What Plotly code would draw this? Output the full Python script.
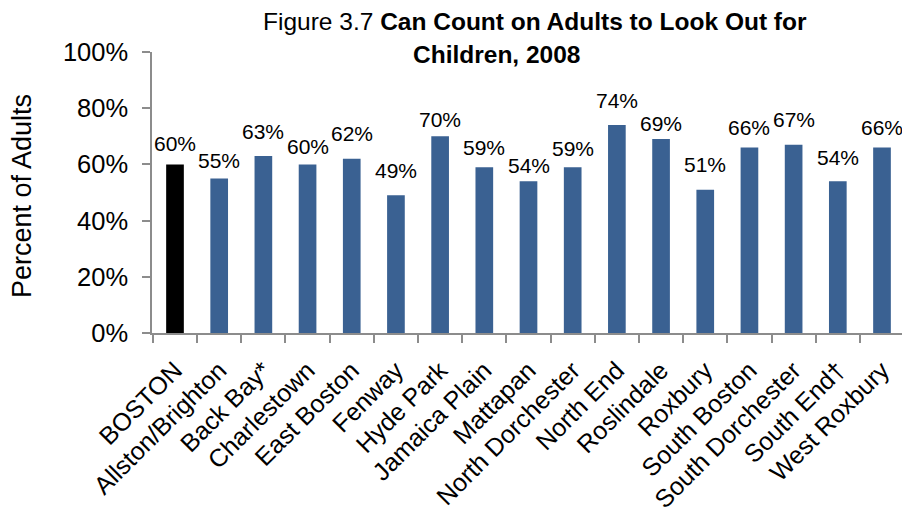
import plotly.graph_objects as go

categories = ["BOSTON", "Allston/Brighton", "Back Bay*", "Charlestown", "East Boston",
              "Fenway", "Hyde Park", "Jamaica Plain", "Mattapan", "North Dorchester",
              "North End", "Roslindale", "Roxbury", "South Boston", "South Dorchester",
              "South End†", "West Roxbury"]
values = [60, 55, 63, 60, 62, 49, 70, 59, 54, 59, 74, 69, 51, 66, 67, 54, 66]
y_ticks = [0, 20, 40, 60, 80, 100]
y_tick_labels = ["0%", "20%", "40%", "60%", "80%", "100%"]

# style: pixel gap between each value label's baseline and its bar top (as placed in the original)
label_gap_px = [12, 9, 16, 9, 17, 16, 8, 11, 7, 10, 16, 7, 17, 11, 17, 15, 11]

colors = ["#000000"] + ["#3A6192"] * (len(categories) - 1)
FONT = "Liberation Sans, Arial, sans-serif"
LABEL_SIZE = 21

# page body has an 8px margin; plot area target in screenshot: x 152..905, y 52..333
PL, PT, PR, PB = 152, 52, 905, 333
OFF = 8
PW = PR - PL
PH = PB - PT

fig = go.Figure(go.Bar(
    x=categories,
    y=values,
    marker=dict(color=colors, line=dict(width=0)),
    hoverinfo="x+y",
))

annotations = [
    dict(text="Figure 3.7 <b>Can Count on Adults to Look Out for</b>",
         xref="paper", yref="paper", x=(535 - PL) / PW, y=1 + (PT - 22) / PH,
         xanchor="center", yanchor="middle", showarrow=False,
         font=dict(family=FONT, size=24.5, color="#000000")),
    dict(text="<b>Children, 2008</b>",
         xref="paper", yref="paper", x=(496 - PL) / PW, y=1 + (PT - 55) / PH,
         xanchor="center", yanchor="middle", showarrow=False,
         font=dict(family=FONT, size=24.5, color="#000000")),
    dict(text="Percent of Adults", textangle=-90,
         xref="paper", yref="paper", x=(22 - PL) / PW, y=1 - (196 - PT) / PH,
         xanchor="center", yanchor="middle", showarrow=False,
         font=dict(family=FONT, size=27, color="#000000")),
]
for cat, v, gap in zip(categories, values, label_gap_px):
    annotations.append(dict(
        text=f"{v}%", x=cat, y=v, xref="x", yref="y",
        xanchor="center", yanchor="middle", showarrow=False,
        yshift=gap + 0.36 * LABEL_SIZE + 1,
        font=dict(family=FONT, size=LABEL_SIZE, color="#000000"),
    ))

fig.update_layout(
    width=910, height=520,
    paper_bgcolor="white", plot_bgcolor="white",
    margin=dict(l=PL - OFF, r=910 - (PR - OFF), t=PT - OFF, b=520 - (PB - OFF), autoexpand=False),
    bargap=0.6,
    showlegend=False,
    font=dict(family=FONT, size=20, color="#000000"),
    xaxis=dict(
        tickangle=-45, automargin=False,
        showline=True, linecolor="#8C8C8C", linewidth=1.5,
        ticks="outside", tickson="boundaries", ticklen=8, tickcolor="#8C8C8C", tickwidth=1.5,
        ticklabelstandoff=11,
        showgrid=False,
        tickfont=dict(size=25),
    ),
    yaxis=dict(
        range=[0, 100], automargin=False,
        tickvals=y_ticks, ticktext=y_tick_labels,
        showline=True, linecolor="#8C8C8C", linewidth=1.5,
        ticks="outside", ticklen=8, tickcolor="#8C8C8C", tickwidth=1.5,
        ticklabelstandoff=9,
        showgrid=False, zeroline=False,
        tickfont=dict(size=25.5),
    ),
    annotations=annotations,
)

fig.write_html("out.html")
